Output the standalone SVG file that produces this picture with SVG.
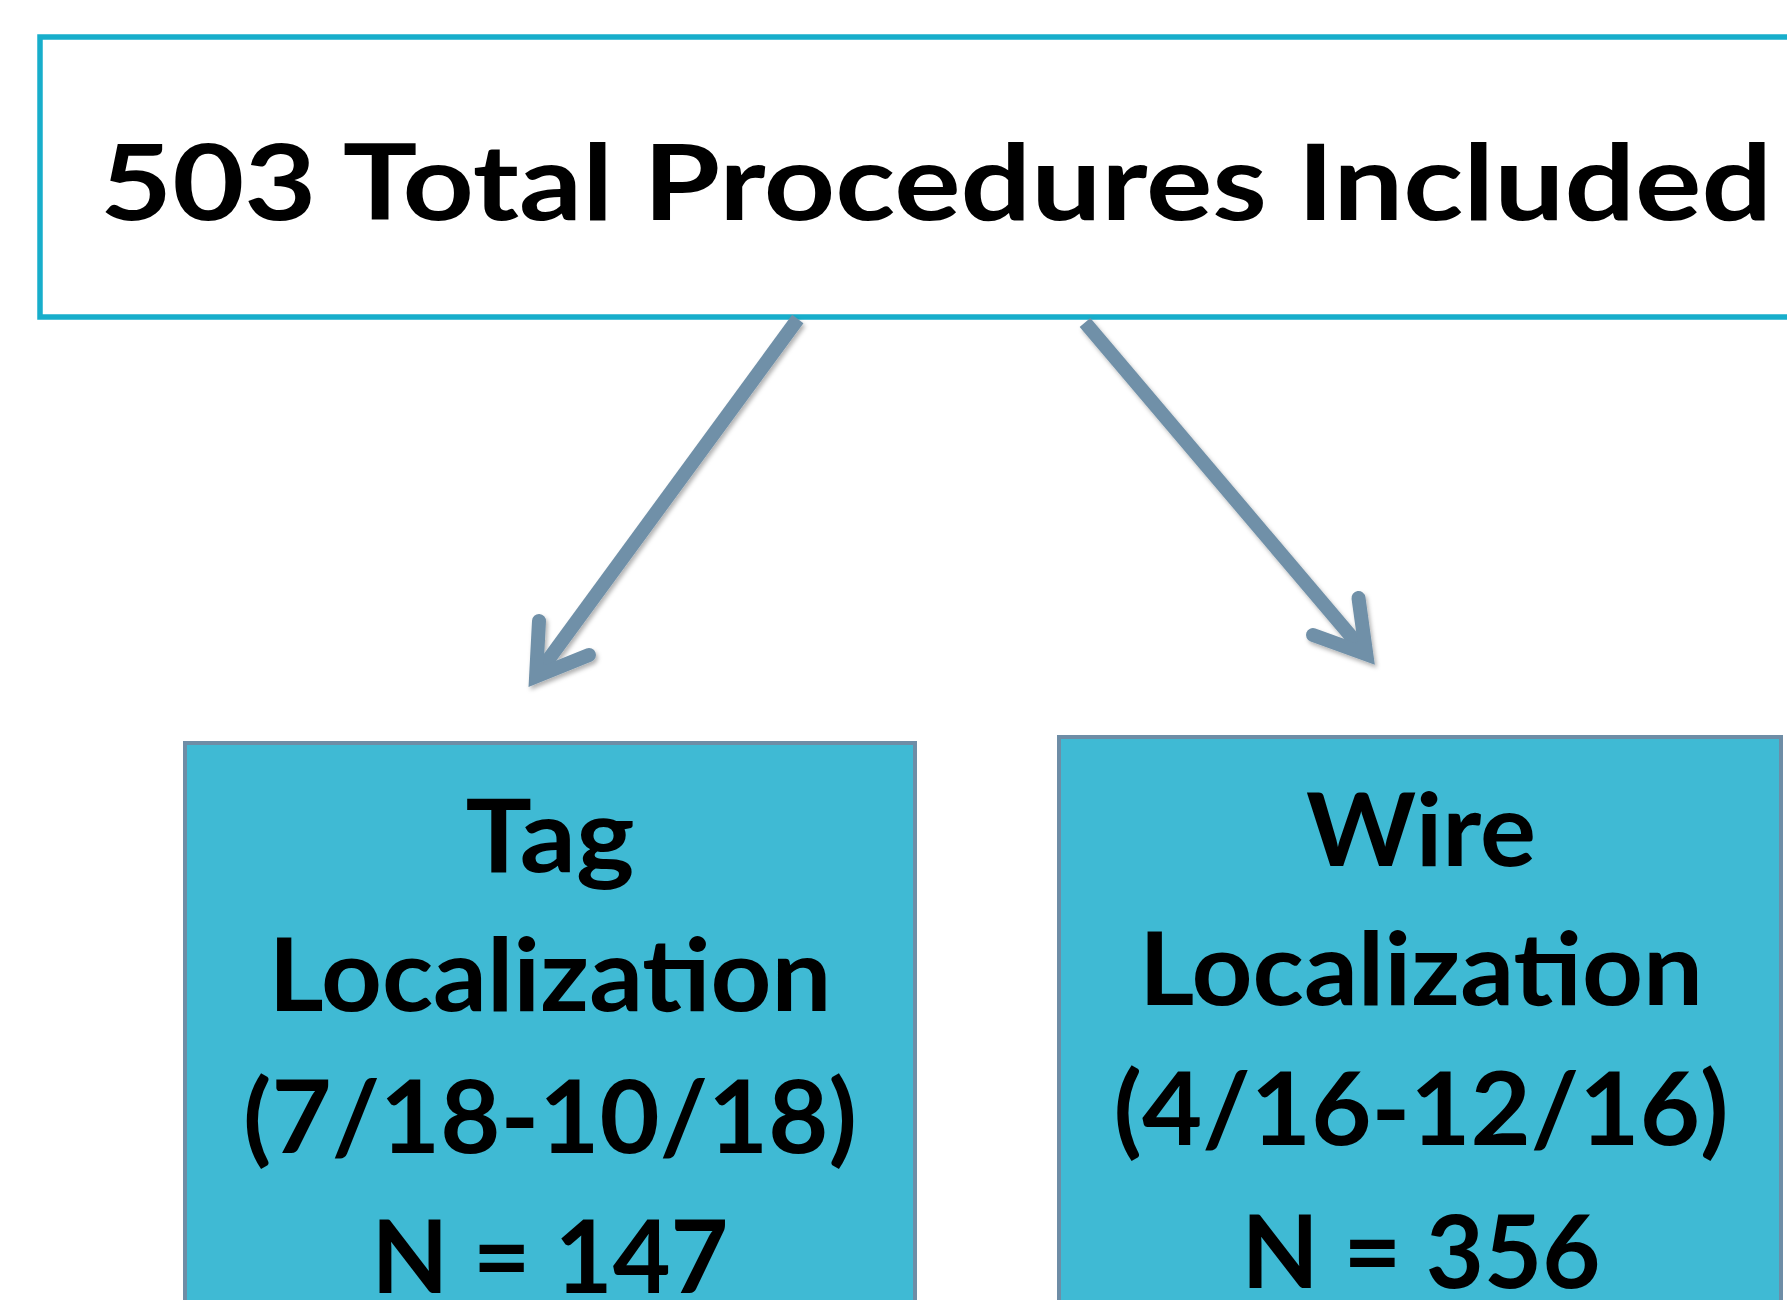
<svg xmlns="http://www.w3.org/2000/svg" width="1787" height="1300" viewBox="0 0 1787 1300">
<defs>
<style>
.title{font-family:Lato,"Open Sans","Liberation Sans",sans-serif;font-weight:bold;font-size:106px;fill:#000}
.lbl{font-family:Lato,"Open Sans","Liberation Sans",sans-serif;font-weight:bold;font-size:102px;fill:#000;text-anchor:middle}
.box{fill:#3FBAD4;stroke:#6E8DA6;stroke-width:4}
.arrow{fill:none;stroke:#7090A8;stroke-width:14}
</style>
<filter id="sh" x="-20%" y="-20%" width="140%" height="140%">
<feDropShadow dx="2" dy="3" stdDeviation="2" flood-color="#000" flood-opacity="0.3"/>
</filter>
</defs>
<rect width="1787" height="1300" fill="#fff"/>
<g id="top">
<rect x="40" y="37" width="1800" height="280" fill="#fff" stroke="#17AECB" stroke-width="5.5"/>
<text class="title" x="100" y="220" textLength="1672" lengthAdjust="spacingAndGlyphs">503 Total Procedures Included</text>
</g>
<g id="connectors" filter="url(#sh)">
<path class="arrow" d="M797.8,319 L536.1,676.3" stroke-linecap="butt"/>
<path class="arrow" d="M539,621 L536.1,676.3 L589,655" stroke-linecap="round" stroke-linejoin="miter" stroke-miterlimit="10"/>
<path class="arrow" d="M1085,322.5 L1366.3,654.3" stroke-linecap="butt"/>
<path class="arrow" d="M1358.5,598 L1366.3,654.3 L1313,635" stroke-linecap="round" stroke-linejoin="miter" stroke-miterlimit="10"/>
</g>
<g id="tag">
<rect class="box" x="185" y="743" width="730" height="600"/>
<text class="lbl" x="550" y="872" textLength="169" lengthAdjust="spacingAndGlyphs">Tag</text>
<text class="lbl" x="550" y="1011" textLength="563" lengthAdjust="spacingAndGlyphs">Localization</text>
<text class="lbl" x="550" y="1153" textLength="614" lengthAdjust="spacingAndGlyphs">(7/18-10/18)</text>
<text class="lbl" x="550" y="1293" textLength="357" lengthAdjust="spacingAndGlyphs">N = 147</text>
</g>
<g id="wire">
<rect class="box" x="1059" y="737" width="722" height="606"/>
<text class="lbl" x="1421" y="866" textLength="230" lengthAdjust="spacingAndGlyphs">Wire</text>
<text class="lbl" x="1421" y="1005" textLength="564" lengthAdjust="spacingAndGlyphs">Localization</text>
<text class="lbl" x="1421" y="1145" textLength="615" lengthAdjust="spacingAndGlyphs">(4/16-12/16)</text>
<text class="lbl" x="1421" y="1288" textLength="359" lengthAdjust="spacingAndGlyphs">N = 356</text>
</g>
</svg>
